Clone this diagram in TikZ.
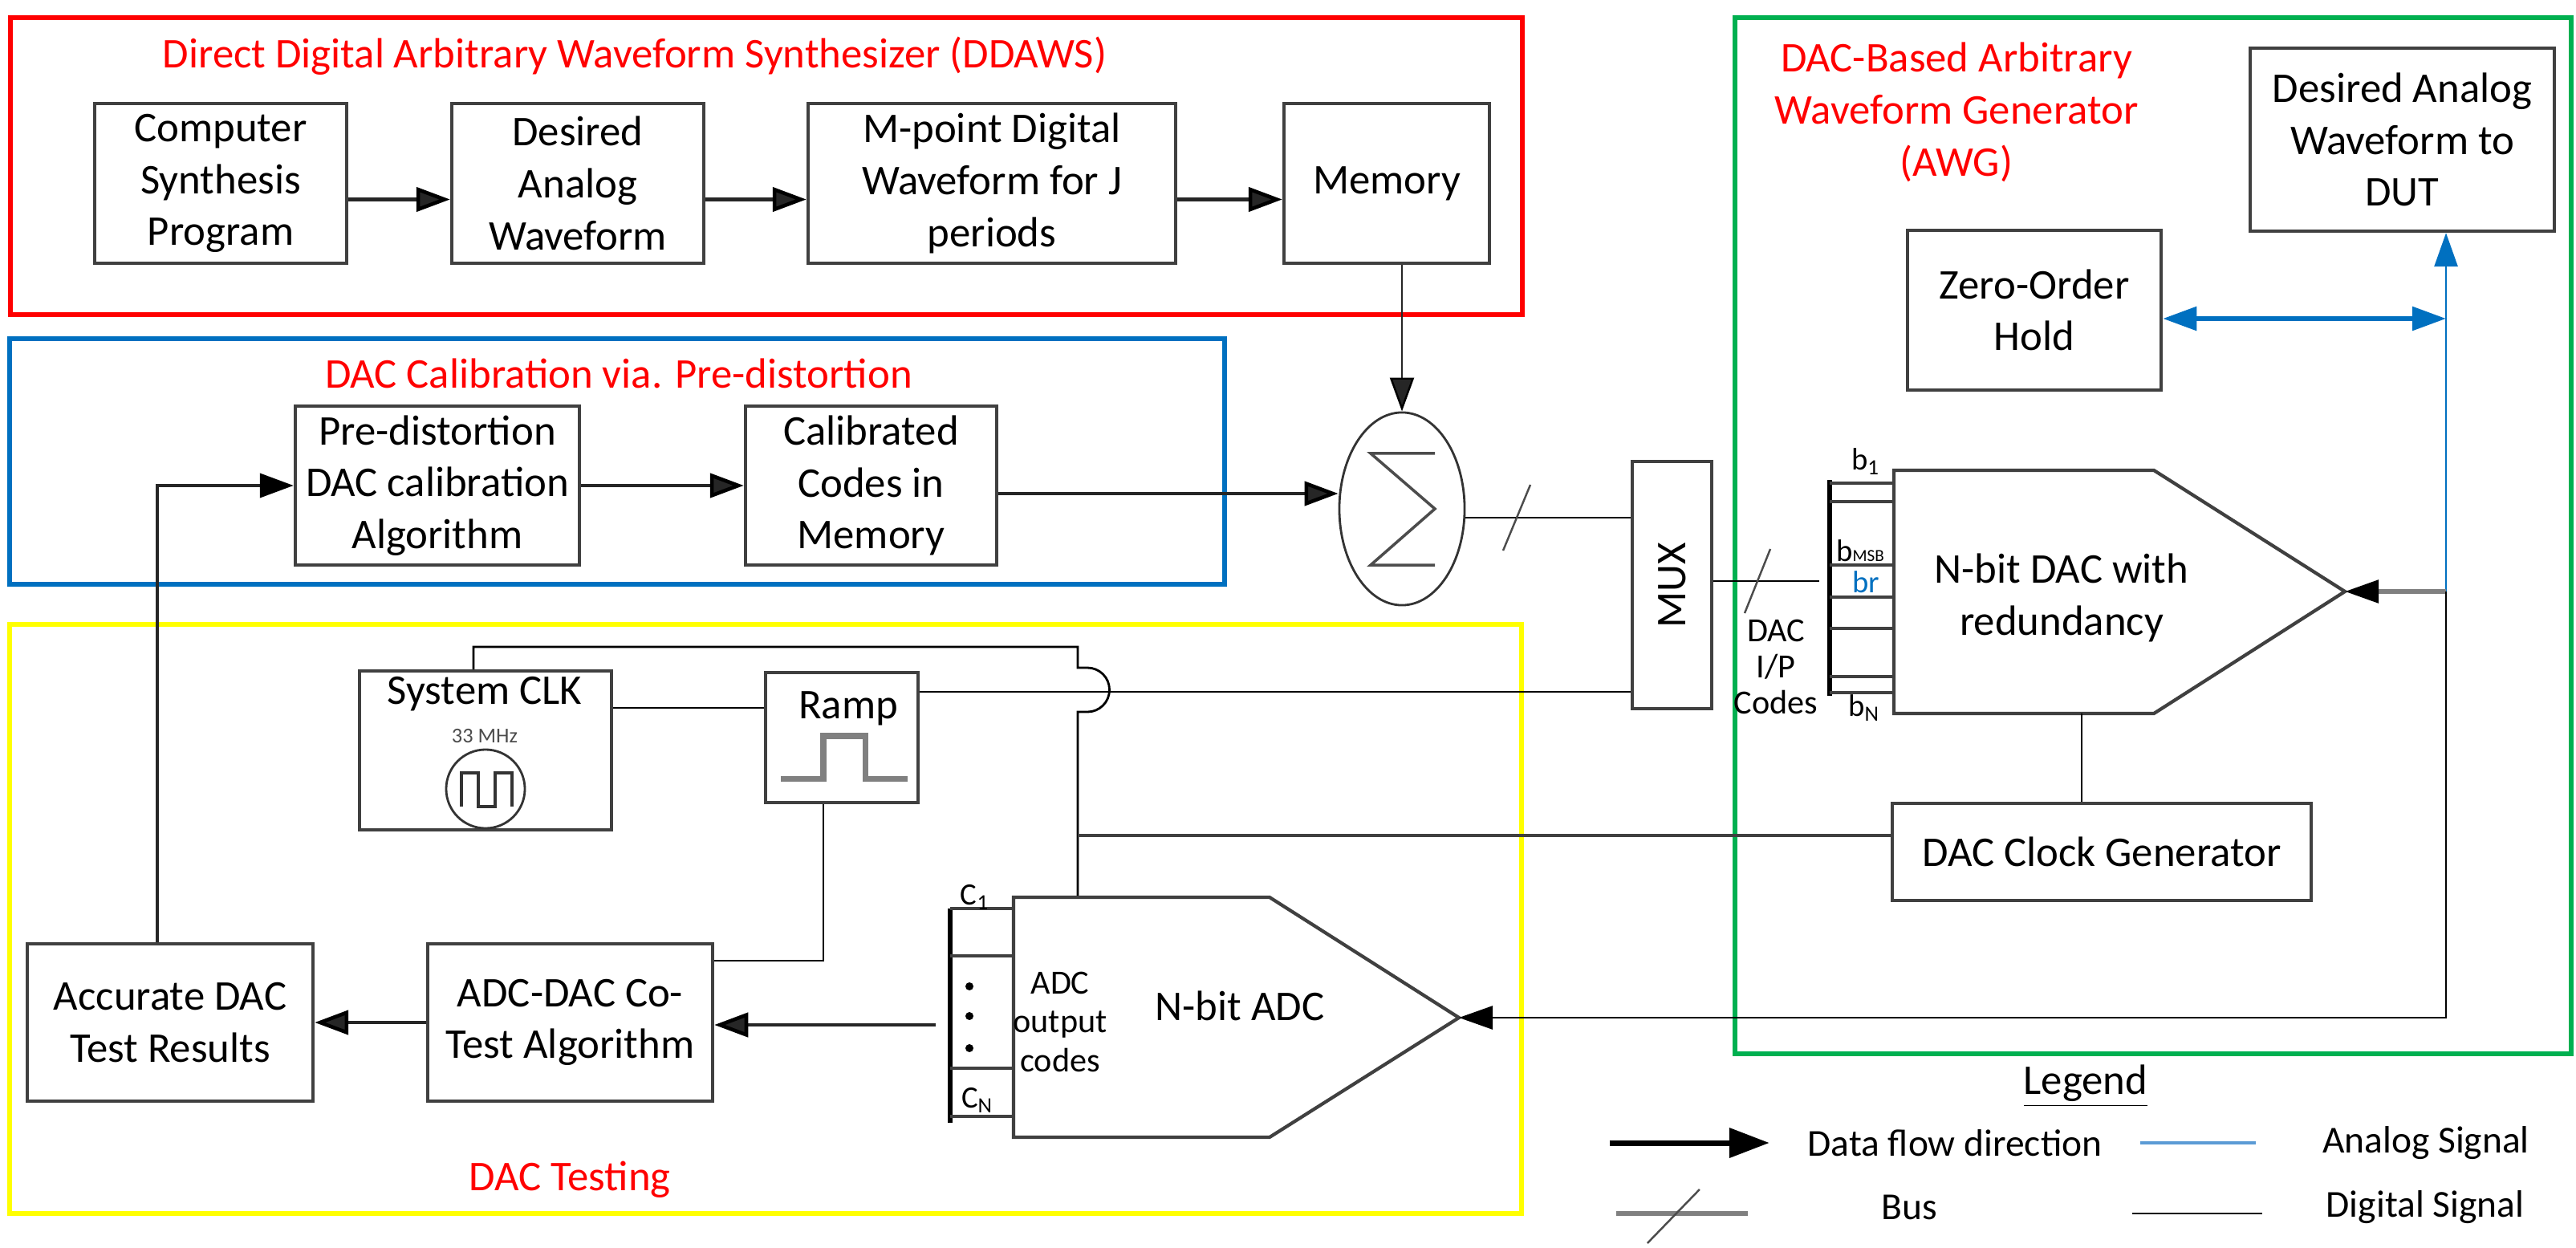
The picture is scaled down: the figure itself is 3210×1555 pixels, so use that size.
\documentclass[tikz,border=0pt]{standalone}
\usepackage{fontspec}
\setmainfont{Carlito}
\usetikzlibrary{arrows.meta,positioning,shapes.geometric}
\definecolor{ddred}{HTML}{FF0000}
\definecolor{calblue}{HTML}{0070C0}
\definecolor{tstyellow}{HTML}{FFFF00}
\definecolor{awggreen}{HTML}{00B050}
\definecolor{anablue}{HTML}{0070C0}
\definecolor{legblue}{HTML}{5B9BD5}
\newcommand{\Bsub}[1]{b\textsubscript{#1}}

\begin{document}
\begin{tikzpicture}[x=0.01cm,y=-0.01cm,
  font=\fontsize{15}{18.4}\selectfont,
  blk/.style={draw=black!75,line width=1.2pt,fill=white,align=center,inner sep=1pt},
  zone/.style={line width=1.8pt},
  ttl/.style={text=ddred,align=center},
  dataflow/.style={line width=1.3pt,black!85,-{Triangle[length=0.42cm,width=0.3cm,color=black]}},
  sigln/.style={line width=0.8pt},
  analog/.style={draw=anablue,line width=0.8pt},
  busmark/.style={line width=0.7pt,black!70},
  stripln/.style={line width=1.1pt,black!75},
  lbl/.style={font=\fontsize{11}{12.8}\selectfont,align=center},
  legtxt/.style={font=\fontsize{13.5}{16}\selectfont}]
\useasboundingbox (0,0) rectangle (3210,1555);
% \draw[help lines] (0,0) grid[step=100] (3210,1555);
%
\draw[zone,ddred] (13,22) rectangle (1897,392);
\draw[zone,calblue] (12,422) rectangle (1526,728);
\draw[zone,tstyellow] (12,778) rectangle (1896,1512);
\draw[zone,awggreen] (2162,22) rectangle (3204,1313);
%
\node (ttlddaws) [ttl] at (791,70) {Direct Digital Arbitrary Waveform Synthesizer (DDAWS)};
\node (ttlcal) [ttl] at (771,465) {DAC Calibration via. Pre-distortion};
\node (ttltest) [ttl] at (710,1470) {DAC Testing};
\node (ttlawg) [ttl] at (2438,140) {DAC-Based Arbitrary\\Waveform Generator\\(AWG)};
%
\node (csp) [blk,minimum width=3.14cm,minimum height=1.99cm] at (275,228.5) {Computer\\Synthesis\\Program};
\node (daw) [blk,minimum width=3.14cm,minimum height=1.99cm] at (720,228.5) {Desired\\Analog\\Waveform};
\node (mpd) [blk,minimum width=4.58cm,minimum height=1.99cm] at (1236,228.5) {M-point Digital\\Waveform for J\\periods};
\node (mem) [blk,minimum width=2.56cm,minimum height=1.99cm] at (1728,228.5) {Memory};
%
\path[dataflow] ([yshift=-0.2cm]csp.east) edge ([yshift=-0.2cm]daw.west);
\path[dataflow] ([yshift=-0.2cm]daw.east) edge ([yshift=-0.2cm]mpd.west);
\path[dataflow] ([yshift=-0.2cm]mpd.east) edge ([yshift=-0.2cm]mem.west);
%
\node (pda) [blk,minimum width=3.54cm,minimum height=1.98cm] at (545,605) {Pre-distortion\\DAC calibration\\Algorithm};
\node (ccm) [blk,minimum width=3.13cm,minimum height=1.98cm] at (1085.5,605) {Calibrated\\Codes in\\Memory};
\path[dataflow] (pda.east) edge (ccm.west);
%
\node (sum) [ellipse,draw=black!80,line width=0.8pt,minimum width=1.56cm,minimum height=2.4cm,inner sep=0pt] at (1747,634) {};
\draw[black!70,line width=1pt] ([xshift=0.41cm,yshift=0.69cm]sum.center) -- ([xshift=-0.39cm,yshift=0.69cm]sum.center)
  -- ([xshift=0.41cm]sum.center) -- ([xshift=-0.39cm,yshift=-0.7cm]sum.center) -- ([xshift=0.41cm,yshift=-0.7cm]sum.center);
\path[dataflow,line width=0.7pt] (sum.north |- mem.south) edge (sum.north);
\path[dataflow] (ccm.east |- 0,615) edge (sum.west |- 0,615);
%
\node (mux) [blk,minimum width=0.99cm,minimum height=3.08cm] at (2083.5,729) {};
\node (muxtxt) [rotate=90] at (mux.center) {MUX};
\draw[sigln] (sum.east |- 0,645) -- (mux.west |- 0,645);
\draw[busmark] (1873,686) -- (1907,604);
\coordinate (dacin) at (2267,724);
\draw[sigln] (mux.east |- dacin) -- (dacin);
\draw[busmark] (2174,764) -- (2206,684);
\node (ipc) [lbl,font=\fontsize{12}{12.8}\selectfont] at (2213,831) {DAC\\I/P\\Codes};
%
% DAC with bit strip
\coordinate (dactip) at (2922,737);
\draw[blk] (2360,586) -- (2684,586) -- (dactip) -- (2684,889) -- (2360,889) -- cycle;
\node (dactxt) [align=center] at (2569,745) {N-bit DAC with\\redundancy};
\draw[line width=1.8pt] (2280,598) -- (2280,867);
\foreach \y in {602,625,704,744,783,843,863}
  \draw[stripln] (2280,\y) -- (2360,\y);
\node (lb1) [lbl] at (2325,575) {\Bsub{1}};
\node (lbmsb) [lbl] at (2318,686) {b{\fontsize{6}{7}\selectfont MSB}};
\node (lbr) [lbl,text=anablue] at (2325,725) {br};
\node (lbn) [lbl] at (2323,882) {\Bsub{N}};
%
\node (zoh) [blk,minimum width=3.16cm,minimum height=1.99cm] at (2535,386.5) {Zero-Order\\Hold};
\node (dut) [blk,minimum width=3.79cm,minimum height=2.28cm] at (2993.5,174) {Desired Analog\\Waveform to\\DUT};
\coordinate (atap) at (3048,397);
\coordinate (aout) at (3048,737);
\coordinate (adcret) at (3048,1268);
\draw[analog,line width=1.6pt,{Triangle[length=0.42cm,width=0.29cm]}-{Triangle[length=0.42cm,width=0.29cm]}] (zoh.east |- atap) -- (atap);
\draw[analog,-{Triangle[length=0.42cm,width=0.29cm]}] (aout) -- (dut.south -| aout);
\draw[line width=1.6pt,black!50,-{Triangle[length=0.42cm,width=0.28cm,color=black]}] (aout) -- (dactip);
%
\node (dcg) [blk,minimum width=5.22cm,minimum height=1.21cm] at (2619,1061.5) {DAC Clock Generator};
\coordinate (dacbot) at (2594,889);
\draw[sigln] (dacbot) -- (dacbot |- dcg.north);
%
% DAC testing
\node (sclk) [blk,minimum width=3.14cm,minimum height=1.98cm] at (605,935) {};
\node (sclktxt) at (604,865) {System CLK};
\node (mhz) [font=\fontsize{7.5}{9}\selectfont,text=black!70] at (604,917) {33 MHz};
\node (osc) [circle,draw=black!80,line width=0.8pt,minimum size=0.98cm,inner sep=0pt] at (605,983) {};
\draw[line width=1pt,black!80] ([xshift=-0.3cm,yshift=-0.22cm]osc.center) -- ++(0,0.42cm) -- ++(0.21cm,0)
  -- ++(0,-0.42cm) -- ++(0.21cm,0) -- ++(0,0.42cm) -- ++(0.21cm,0) -- ++(0,-0.42cm);
\node (ramp) [blk,minimum width=1.9cm,minimum height=1.62cm] at (1049,919) {};
\node (ramptxt) at (1057,883) {Ramp};
\draw[black!50,line width=2pt] ([xshift=-0.76cm,yshift=-0.51cm]ramp.center) -- ++(0.53cm,0) -- ++(0,0.53cm)
  -- ++(0.52cm,0) -- ++(0,-0.53cm) -- ++(0.53cm,0);
%
\draw[sigln] (sclk.east |- 0,882) -- (ramp.west |- 0,882);
\draw[sigln] (ramp.east |- 0,862) -- (mux.west |- 0,862);
\coordinate (ckt) at (1343,806);
\coordinate (ckj) at (1343,1041);
\coordinate (adctop) at (1343,1118);
\draw[sigln] ([xshift=-0.15cm]sclk.north) |- (ckt) -- (1343,832) -- (1355,832)
  arc[start angle=90,end angle=-90,radius=0.275cm] -- (1343,887) -- (adctop);
\draw[line width=1.1pt,black!75] (ckj) -- (dcg.west |- ckj);
%
\node (acc) [blk,minimum width=3.56cm,minimum height=1.96cm] at (212,1274) {Accurate DAC\\Test Results};
\node (adct) [blk,minimum width=3.55cm,minimum height=1.96cm] at (710.5,1274) {ADC-DAC Co-\\Test Algorithm};
\path[dataflow] (adct.west) edge (acc.east);
\draw[sigln] ([xshift=-0.23cm]ramp.south) |- ([yshift=0.77cm]adct.east);
\draw[dataflow,line width=1.1pt] ([xshift=-0.16cm]acc.north) |- (pda.west);
%
% ADC with code strip
\coordinate (adctip) at (1818,1268);
\draw[blk] (1263,1118) -- (1582,1118) -- (adctip) -- (1582,1417) -- (1263,1417) -- cycle;
\node (adctxt) at (1545,1253) {N-bit ADC};
\draw[line width=1.8pt] (1184,1132) -- (1184,1399);
\foreach \y in {1132,1191,1331,1391}
  \draw[stripln] (1184,\y) -- (1263,\y);
\foreach \y in {1229,1266,1306}
  \fill (1208,\y) circle[radius=0.05cm];
\node (lc1) [lbl] at (1215,1118) {C\textsubscript{1}};
\node (lcn) [lbl] at (1218,1371) {C\textsubscript{N}};
\node (adcoc) [font=\fontsize{12}{13.8}\selectfont,align=center] at (1321,1273) {ADC\\output\\codes};
\coordinate (adcout) at (1166,1277);
\path[dataflow] (adcout) edge (adct.east |- adcout);
\draw[sigln,-{Triangle[length=0.42cm,width=0.29cm]}] (aout) -- (adcret) -- (adctip);
%
% legend
\node (leg) at (2599,1353) {\underline{Legend}};
\node (lgflow) [legtxt] at (2436,1424) {Data flow direction};
\node (lgana) [legtxt] at (3023,1424) {Analog Signal};
\node (lgbus) [legtxt] at (2379,1504) {Bus};
\node (lgdig) [legtxt] at (3022,1504) {Digital Signal};
\draw[line width=2pt,-{Triangle[length=0.5cm,width=0.36cm]}] ([xshift=-4.30cm]lgflow.center) -- ([xshift=-2.31cm]lgflow.center);
\draw[legblue,line width=1.2pt] ([xshift=-3.56cm]lgana.center) -- ([xshift=-2.12cm]lgana.center);
\draw[black!50,line width=1.6pt] ([xshift=-3.65cm,yshift=-0.08cm]lgbus.center) -- ([xshift=-2.01cm,yshift=-0.08cm]lgbus.center);
\draw[busmark] ([xshift=-3.26cm,yshift=-0.45cm]lgbus.center) -- ([xshift=-2.61cm,yshift=0.22cm]lgbus.center);
\draw[sigln] ([xshift=-3.65cm,yshift=-0.08cm]lgdig.center) -- ([xshift=-2.03cm,yshift=-0.08cm]lgdig.center);
\end{tikzpicture}
\end{document}
